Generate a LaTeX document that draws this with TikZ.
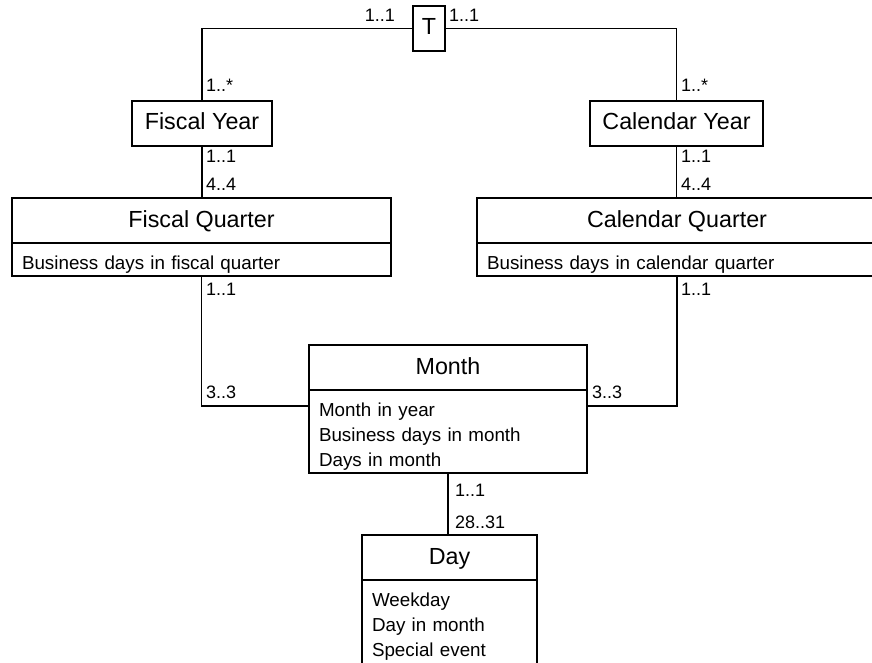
\documentclass[tikz,border=0pt]{standalone}
\usepackage{fontspec}
\setmainfont{Liberation Sans}
\usepackage{tikz}
\usetikzlibrary{positioning}

\tikzset{
	classhead/.style={draw, line width=1.1pt, outer sep=0pt, inner sep=0pt, anchor=north west,
		text height=29pt, text depth=16pt, font=\fontsize{23.3}{27}\selectfont},
	classattr/.style={draw, line width=1.1pt, outer sep=0pt, inner xsep=10pt, inner ysep=0pt,
		align=left, text height=26pt, text depth=7pt, font=\fontsize{18.8}{25}\selectfont},
	assoc/.style={line width=1.1pt},
	mult/.style={inner sep=0pt, anchor=base west, font=\fontsize{18}{21}\selectfont}
}

\begin{document}
\begin{tikzpicture}[x=1pt, y=-1pt]
	\useasboundingbox (0,0) rectangle (872,663);

	% Classes
	\node[classhead, minimum width=32pt] (t) at (413,6) {T};
	\node[classhead, minimum width=140pt] (fy) at (132,101) {Fiscal Year};
	\node[classhead, minimum width=173pt] (cy) at (590,101) {Calendar Year};

	\node[classhead, minimum width=379pt] (fqh) at (12,198) {Fiscal Quarter};
	\node[classattr, text width=359pt, below=0pt of fqh] (fqa) {Business days in fiscal quarter};
	\node[classhead, minimum width=400pt] (cqh) at (477,198) {Calendar Quarter};
	\node[classattr, text width=380pt, below=0pt of cqh] (cqa) {Business days in calendar quarter};

	\node[classhead, minimum width=278pt] (mh) at (309,345) {Month};
	\node[classattr, text width=258pt, text depth=57pt, below=0pt of mh] (ma)
		{Month in year\\Business days in month\\Days in month};

	\node[classhead, minimum width=175pt] (dh) at (362,535) {Day};
	\node[classattr, text width=155pt, text depth=60pt, below=0pt of dh] (da)
		{Weekday\\Day in month\\Special event};

	% Associations
	\coordinate (mleft) at ([yshift=-16pt]ma.north west);
	\coordinate (mright) at ([yshift=-16pt]ma.north east);
	\draw[assoc] (fy.north) |- (t.west);
	\draw[assoc] (t.east) -| (cy.north);
	\draw[assoc] (fy.south) -- (fy.south |- fqh.north);
	\draw[assoc] (cy.south) -- (cy.south |- cqh.north);
	\draw[assoc] (fqa.south) |- (mleft);
	\draw[assoc] (cqa.south) |- (mright);
	\draw[assoc] (ma.south) -- (ma.south |- dh.north);

	% Multiplicities
	\node[mult, anchor=base east] (mtl) at (395,22) {1..1};
	\node[mult] (mtr) at (449,22) {1..1};
	\node[mult] (mfy1) at (206,92) {1..*};
	\node[mult] (mcy1) at (681,92) {1..*};
	\node[mult] (mfy2) at (206,163) {1..1};
	\node[mult] (mfq1) at (206,190) {4..4};
	\node[mult] (mcy2) at (681,163) {1..1};
	\node[mult] (mcq1) at (681,190) {4..4};
	\node[mult] (mfq2) at (206,295) {1..1};
	\node[mult] (mml) at (206,398) {3..3};
	\node[mult] (mcq2) at (681,295) {1..1};
	\node[mult] (mmr) at (592,398) {3..3};
	\node[mult] (mm) at (455,496) {1..1};
	\node[mult] (md) at (455,528) {28..31};
\end{tikzpicture}
\end{document}
